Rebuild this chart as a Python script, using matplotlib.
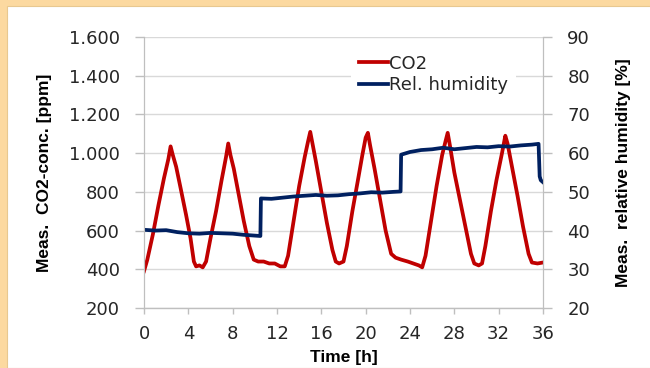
import matplotlib.pyplot as plt
from matplotlib.patches import Rectangle

"""
    Data read off the chart
"""
# CO2 concentration [ppm] over time [h]
co2_time = [0.0, 0.3, 0.8, 1.3, 1.8, 2.2, 2.4, 2.6, 2.9, 3.3, 3.8, 4.2, 4.5, 4.7, 5.0, 5.3,
            5.6, 6.0, 6.5, 7.0, 7.4, 7.6, 7.8, 8.1, 8.5, 9.0, 9.5, 9.9, 10.3, 10.8, 11.3,
            11.8, 12.3, 12.7, 13.0, 13.5, 14.0, 14.5, 14.8, 15.0, 15.2, 15.5, 16.0, 16.5,
            17.0, 17.3, 17.6, 18.0, 18.3, 18.8, 19.3, 19.7, 20.0, 20.2, 20.4, 20.8, 21.3,
            21.8, 22.3, 22.7, 23.2, 23.8, 24.3, 24.8, 25.1, 25.4, 25.9, 26.4, 26.9, 27.2,
            27.4, 27.6, 28.0, 28.5, 29.0, 29.5, 29.8, 30.2, 30.5, 30.8, 31.3, 31.8, 32.3,
            32.6, 32.8, 33.2, 33.7, 34.2, 34.7, 35.0, 35.5, 36.0]
co2_ppm = [390, 450, 580, 730, 870, 970, 1035, 990, 930, 820, 680, 560, 440, 415, 420, 410,
           440, 560, 700, 860, 980, 1050, 990, 920, 800, 650, 520, 450, 440, 440, 430,
           430, 415, 415, 470, 650, 830, 980, 1060, 1110, 1050, 960, 800, 640,
           500, 440, 430, 440, 520, 700, 860, 990, 1080, 1105, 1040, 920, 760,
           600, 480, 460, 450, 440, 430, 420, 410, 470, 650, 830, 990, 1060,
           1105, 1040, 900, 760, 620, 480, 430, 420, 430, 520, 700, 860, 1000,
           1090, 1050, 930, 780, 620, 480, 435, 430, 435]

# Relative humidity [%] over time [h]
rh_time = [0, 1, 2, 3, 4, 5, 6, 7, 8, 9, 10, 10.5, 10.55, 11.5, 12.5, 13.5, 14.5, 15.5,
           16.5, 17.5, 18.5, 19.5, 20.5, 21.5, 22.5, 23.15, 23.2, 24, 25, 26, 27, 28, 29,
           30, 31, 32, 33, 34, 35, 35.6, 35.7, 35.8, 36]
rh_pct = [40.2, 40.0, 40.1, 39.6, 39.3, 39.2, 39.4, 39.3, 39.2, 38.9, 38.7, 38.6, 48.3,
          48.2, 48.5, 48.8, 49.0, 49.2, 49.0, 49.1, 49.4, 49.6, 49.9, 49.8, 50.0, 50.1,
          59.6, 60.3, 60.8, 61.0, 61.4, 61.0, 61.3, 61.6, 61.5, 61.8, 61.7, 62.0, 62.2,
          62.4, 54.0, 53.0, 52.5]

x_ticks = [0, 4, 8, 12, 16, 20, 24, 28, 32, 36]
co2_ticks = [200, 400, 600, 800, 1000, 1200, 1400, 1600]
co2_tick_labels = ["200", "400", "600", "800", "1.000", "1.200", "1.400", "1.600"]
rh_ticks = [20, 30, 40, 50, 60, 70, 80, 90]

"""
    Styles
"""
red = "#C00000"
navy = "#002060"
grid_grey = "#D9D9D9"
axis_grey = "#BFBFBF"
text_col = "#262626"
label_font = ["Liberation Sans", "DejaVu Sans"]

fig = plt.figure(figsize=(6.5, 3.68), dpi=100)
fig.patch.set_facecolor("#FCD9A0")
fig.add_artist(Rectangle((7 / 650, 0), 1, 1 - 6 / 368, transform=fig.transFigure,
                         facecolor="white", edgecolor="#E8C890", linewidth=0.8,
                         zorder=-10))

ax = fig.add_axes([144 / 650, 1 - 308 / 368, 399 / 650, 271 / 368])
ax.set_facecolor("none")
ax2 = ax.twinx()

l1, = ax.plot(co2_time, co2_ppm, color=red, linewidth=2.7, label="CO2")
l2, = ax2.plot(rh_time, rh_pct, color=navy, linewidth=2.7, label="Rel. humidity")

ax.set_xlim(0, 36)
ax.set_ylim(200, 1600)
ax2.set_ylim(20, 90)

ax.set_xticks(x_ticks)
ax.set_yticks(co2_ticks)
ax.set_yticklabels(co2_tick_labels)
ax2.set_yticks(rh_ticks)

ax.yaxis.grid(True, color=grid_grey, linewidth=1.0)
ax.set_axisbelow(True)

for a in (ax, ax2):
    for side in ("top", "bottom"):
        a.spines[side].set_visible(False)
    a.spines["left"].set_color(axis_grey)
    a.spines["right"].set_color(axis_grey)
    a.tick_params(axis="y", colors=axis_grey, labelcolor=text_col, labelsize=13,
                  length=6.5, width=1, pad=11)
ax.tick_params(axis="x", colors=axis_grey, labelcolor=text_col, labelsize=13,
               length=4, width=1, pad=8)
ax.axhline(200, color=axis_grey, linewidth=1, clip_on=False)

ax.set_xlabel("Time [h]", fontsize=12.5, fontweight="bold", color="black",
              fontfamily=label_font, labelpad=5)
ax.set_ylabel("Meas.  CO2-conc. [ppm]", fontsize=12.5, fontweight="bold", color="black",
              fontfamily=label_font, labelpad=12)
ax2.set_ylabel("Meas.  relative humidity [%]", fontsize=12.5, fontweight="bold", color="black",
               fontfamily=label_font, labelpad=19)

# legend sits on the twin axes so it covers the grid and both lines
leg = ax2.legend(handles=[l1, l2], loc="upper left", bbox_to_anchor=(0.52, 0.962),
                 fontsize=13, frameon=True, framealpha=1, edgecolor="none",
                 handlelength=1.6, handletextpad=0.1, borderaxespad=0, labelspacing=0.2)
for t in leg.get_texts():
    t.set_color(text_col)

fig.savefig("out.png", dpi=100, facecolor=fig.get_facecolor())
